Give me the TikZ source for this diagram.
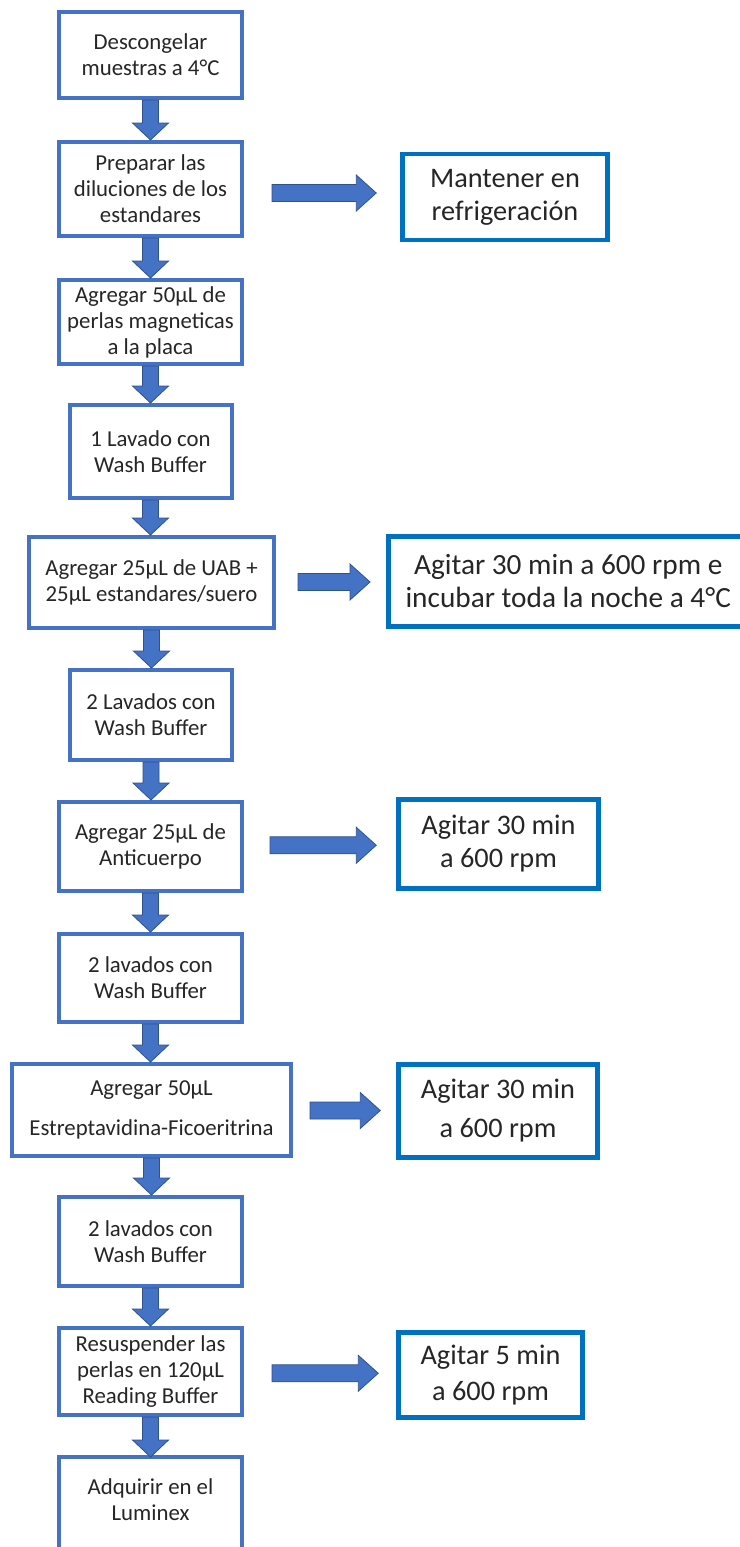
\documentclass[tikz,border=0pt]{standalone}
\usepackage{fontspec}
\setmainfont{Carlito}
\usetikzlibrary{calc}
\definecolor{lblue}{HTML}{4472C4}
\definecolor{rblue}{HTML}{0070C0}
\definecolor{aedge}{HTML}{2F528F}
\tikzset{
  lbox/.style={draw=lblue, line width=4pt, fill=white, inner sep=0pt, align=center,
    font=\fontsize{22.8}{26}\selectfont, text=black!85},
  rbox/.style={draw=rblue, line width=4.5pt, fill=white, inner sep=0pt, align=center,
    font=\fontsize{28.3}{33}\selectfont, text=black!85},
  barrow/.style={fill=lblue, draw=aedge, line width=0.8pt, line join=miter}
}
\newcommand{\downarr}[2]{%
  \draw[barrow] let \p1=(#1.south), \p2=(#2.north) in
    (\x1-8pt,\y1) -- (\x1+8pt,\y1) -- (\x1+8pt,\y2+17pt) -- (\x1+18pt,\y2+17pt)
    -- (\x1,\y2) -- (\x1-18pt,\y2+17pt) -- (\x1-8pt,\y2+17pt) -- cycle;}
\newcommand{\rightarr}[4]{%
  \draw[barrow] let \p1=(#1.east), \p2=(#2.west), \p3=($(#1.east)!0.5!(#2.west)$) in
    (\x1+#3,\y3+8.5pt) -- (\x2-#4-20pt,\y3+8.5pt) -- (\x2-#4-20pt,\y3+18pt)
    -- (\x2-#4,\y3) -- (\x2-#4-20pt,\y3-18pt) -- (\x2-#4-20pt,\y3-8.5pt)
    -- (\x1+#3,\y3-8.5pt) -- cycle;}
\begin{document}
\begin{tikzpicture}[x=1pt,y=-1pt]
\useasboundingbox[fill=white] (0,0) rectangle (739,1547);
% left column
\node[lbox, minimum width=183pt, minimum height=86pt] (b1) at (150.5,55) {Descongelar\\muestras a 4°C};
\node[lbox, minimum width=183pt, minimum height=94pt] (b2) at (150.5,189) {Preparar las\\diluciones de los\\estandares};
\node[lbox, minimum width=183pt, minimum height=84pt] (b3) at (150.5,322) {Agregar 50µL de\\perlas magneticas\\a la placa};
\node[lbox, minimum width=162pt, minimum height=93pt] (b4) at (150.5,451.5) {1 Lavado con\\Wash Buffer};
\node[lbox, minimum width=245pt, minimum height=91pt] (b5) at (151.5,582.5) {Agregar 25µL de UAB +\\25µL estandares/suero};
\node[lbox, minimum width=162pt, minimum height=90pt] (b6) at (151,715) {2 Lavados con\\Wash Buffer};
\node[lbox, minimum width=183pt, minimum height=89pt] (b7) at (150.5,846.5) {Agregar 25µL de\\Anticuerpo};
\node[lbox, minimum width=183pt, minimum height=88pt] (b8) at (150.5,978) {2 lavados con\\Wash Buffer};
\node[lbox, minimum width=279pt, minimum height=92pt] (b9) at (151.5,1110) {Agregar 50µL\\[14pt]Estreptavidina-Ficoeritrina};
\node[lbox, minimum width=183pt, minimum height=89pt] (b10) at (150.5,1241.5) {2 lavados con\\Wash Buffer};
\node[lbox, minimum width=183pt, minimum height=87pt] (b11) at (150.5,1371.5) {Resuspender las\\perlas en 120µL\\Reading Buffer};
\node[lbox, draw=none, fill=none, outer sep=0pt, minimum width=183pt, minimum height=86pt] (b12) at (150.5,1500) {Adquirir en el\\Luminex};
\draw[draw=lblue, line width=4pt] ([yshift=-40pt]b12.south west) -- (b12.north west) -- (b12.north east) -- ([yshift=-40pt]b12.south east);
% right column
\node[rbox, minimum width=205pt, minimum height=86pt] (r1) at (505,197) {Mantener en\\refrigeración};
\node[rbox, minimum width=360pt, minimum height=90pt, anchor=west, font=\fontsize{29.3}{33}\selectfont] (r2) at (386,581.5) {Agitar 30 min a 600 rpm e\\incubar toda la noche a 4°C};
\node[rbox, minimum width=200pt, minimum height=89pt] (r3) at (498.5,844) {Agitar 30 min\\a 600 rpm};
\node[rbox, minimum width=199pt, minimum height=93pt] (r4) at (498,1111) {Agitar 30 min\\[6pt]a 600 rpm};
\node[rbox, minimum width=184pt, minimum height=85pt] (r5) at (490.5,1375) {Agitar 5 min\\[3pt]a 600 rpm};
% vertical arrows
\downarr{b1}{b2}
\downarr{b2}{b3}
\downarr{b3}{b4}
\downarr{b4}{b5}
\downarr{b5}{b6}
\downarr{b6}{b7}
\downarr{b7}{b8}
\downarr{b8}{b9}
\downarr{b9}{b10}
\downarr{b10}{b11}
\downarr{b11}{b12}
% horizontal arrows
\rightarr{b2}{r1}{28pt}{24pt}
\rightarr{b5}{r2}{22pt}{16pt}
\rightarr{b7}{r3}{26pt}{20pt}
\rightarr{b9}{r4}{17pt}{16pt}
\rightarr{b11}{r5}{28pt}{18pt}
\end{tikzpicture}
\end{document}
